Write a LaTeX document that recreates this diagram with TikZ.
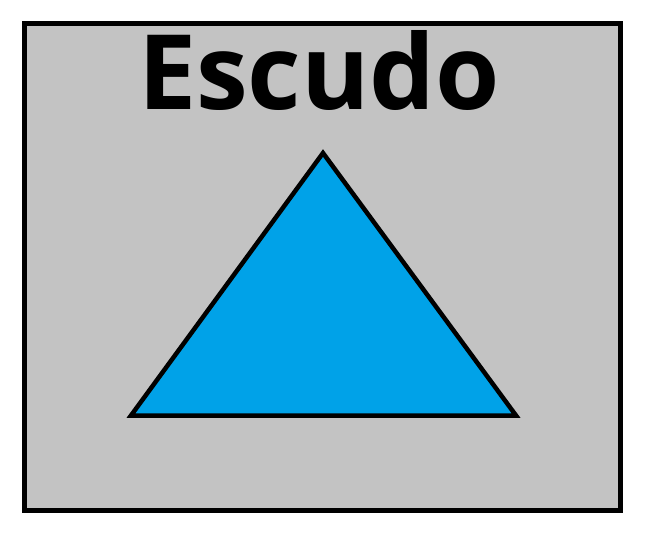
\documentclass[tikz,border=0pt]{standalone}
\usepackage{fontspec}
\setmainfont{Open Sans}
\definecolor{panelgray}{HTML}{C3C3C3}
\definecolor{shieldblue}{HTML}{00A2E8}
\tikzset{
  panel/.style={draw=black, line width=5pt, fill=panelgray},
  shield/.style={draw=black, line width=4.5pt, fill=shieldblue, line join=miter},
  titletext/.style={font=\fontsize{104}{110}\selectfont\bfseries, anchor=base, inner sep=0pt}
}
\begin{document}
\begin{tikzpicture}[x=1pt,y=-1pt]
\useasboundingbox (0,0) rectangle (645,534);
\node[panel, minimum width=596pt, minimum height=486pt, inner sep=0pt, anchor=north west] (box) at (21.5,21.5) {};
\node[titletext] (title) at (319,110) {Escudo};
\coordinate (apex) at (323,153);
\coordinate (bl) at (131,415.5);
\coordinate (br) at (516,415.5);
\draw[shield] (apex) -- (br) -- (bl) -- cycle;
\end{tikzpicture}
\end{document}
